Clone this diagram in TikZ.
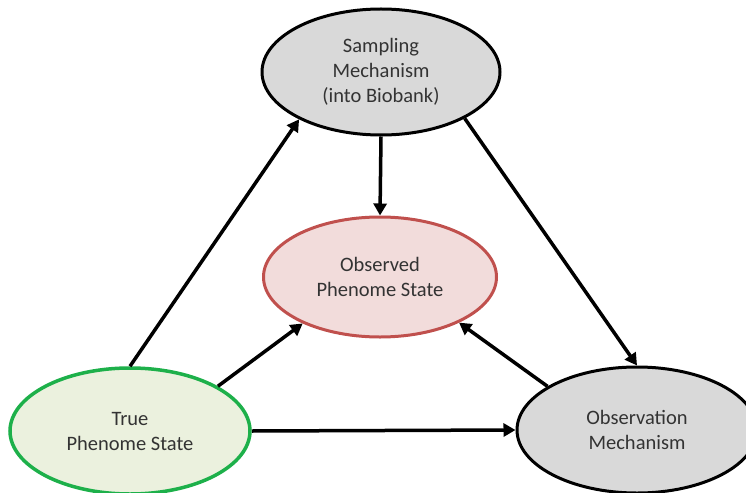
\documentclass[tikz,border=0pt]{standalone}
\usepackage{fontspec}
\setmainfont{Carlito}
\usepackage{tikz}
\usetikzlibrary{positioning, arrows.meta, shapes.geometric}
\definecolor{mechgray}{HTML}{D9D9D9}
\definecolor{obsfill}{HTML}{F2DCDB}
\definecolor{obsline}{HTML}{C0504D}
\definecolor{truefill}{HTML}{EBF1DE}
\definecolor{trueline}{HTML}{1DB04A}

\begin{document}
\begin{tikzpicture}[x=1pt, y=-1pt,
        every node/.style={font=\fontsize{20.5}{25}\selectfont, text=black!80},
        state/.style={ellipse, draw, line width=3pt, inner sep=0pt,
          minimum width=238pt, minimum height=126pt, align=center},
        arr/.style={-{Triangle[length=12pt, width=13pt]}, line width=3.5pt}]
      \useasboundingbox (0,0) rectangle (746,492);
      \clip (0,0) rectangle (746,492);
      % the four states
      \node[state, fill=mechgray] (samp) at (381,72)
        {Sampling\\Mechanism\\(into Biobank)};
      \node[state, fill=obsfill, draw=obsline, minimum width=233pt,
        minimum height=120pt] (seen) at (380,277) {Observed\\Phenome State};
      \node[state, fill=truefill, draw=trueline, line width=3.5pt,
        minimum width=240pt] (true) at (130,431) {True\\Phenome State};
      \node[state, fill=mechgray, minimum width=240pt] (obs) at (637,430)
        {Observation\\Mechanism};
      % arrows
      \draw[arr] (true.north) -- (samp.210);
      \draw[arr] (samp.331) -- (obs.north);
      \draw[arr] (samp.south) -- (seen.north);
      \draw[arr] (true.27) -- (seen.211);
      \draw[arr] (obs.154) -- (seen.330);
      \draw[arr] (true.east) -- (obs.west);
    \end{tikzpicture}
\end{document}
